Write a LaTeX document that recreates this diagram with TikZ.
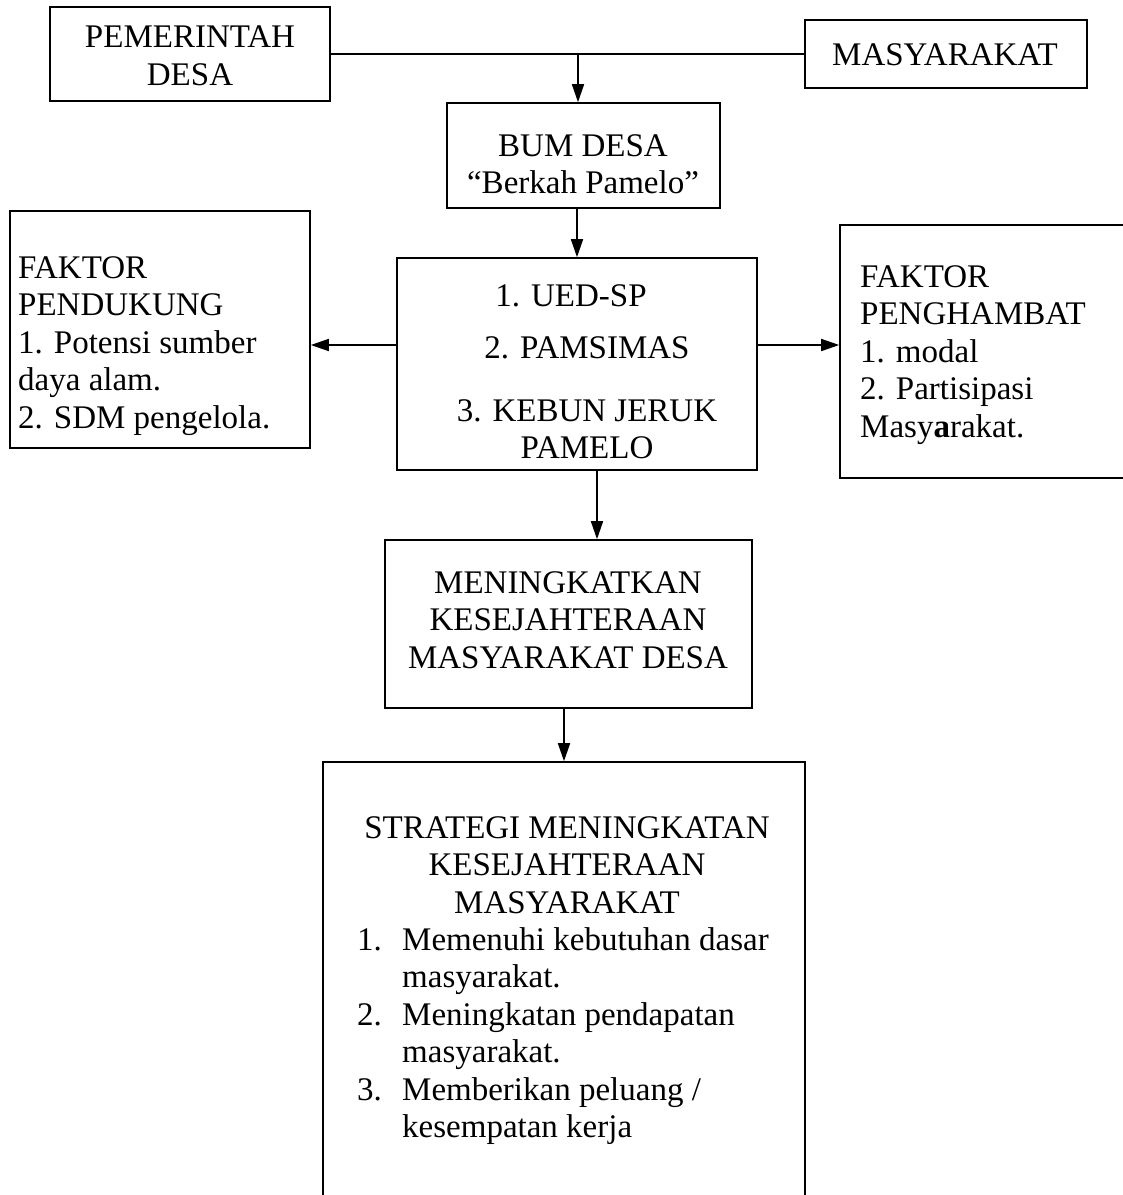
\documentclass[tikz,border=0pt]{standalone}
\usepackage{fontspec}
\setmainfont{Liberation Serif}
\usetikzlibrary{arrows.meta}
\begin{document}
\begin{tikzpicture}[x=1pt,y=-1pt,
  box/.style={draw,line width=1.6pt,inner sep=0pt},
  arr/.style={line width=1.6pt,-{Triangle[length=18pt,width=12pt]}},
  txt/.style={inner sep=0pt,font=\fontsize{33}{37.5}\selectfont},
  lnk/.style={line width=1.6pt}]
\useasboundingbox (0,0) rectangle (1123,1195);
% boxes
\node[box,minimum width=280pt,minimum height=94pt] (pem) at (190,54) {};
\node[box,minimum width=282pt,minimum height=68pt] (mas) at (946,54) {};
\node[box,minimum width=273pt,minimum height=105pt] (bum) at (583.5,155.5) {};
\node[box,minimum width=360pt,minimum height=212pt] (main) at (577,364) {};
\node[box,minimum width=300pt,minimum height=237pt] (left) at (160,329.5) {};
\node[box,minimum width=310pt,minimum height=253pt] (right) at (995,351.5) {};
\node[box,minimum width=367pt,minimum height=168pt] (men) at (568.5,624) {};
\node[box,minimum width=482pt,minimum height=460pt] (str) at (564,992) {};
% texts
\node[txt,align=center] (tpem) at (190,56) {PEMERINTAH\\DESA};
\node[txt] (tmas) at (945,55) {MASYARAKAT};
\node[txt,align=center] (tbum) at (583,164) {BUM DESA\\``Berkah Pamelo''};
\node[txt,align=left,anchor=west] (tleft) at (18,346) {FAKTOR\\PENDUKUNG\\1. Potensi sumber\\daya alam.\\2. SDM pengelola.};
\node[txt] (tm1) at (571,296) {1. UED-SP};
\node[txt] (tm2) at (587,348) {2. PAMSIMAS};
\node[txt,align=center] (tm3) at (587,429) {3. KEBUN JERUK\\PAMELO};
\node[txt,align=left,anchor=west] (tright) at (860,355) {FAKTOR\\PENGHAMBAT\\1. modal\\2. Partisipasi\\Masy\textbf{a}rakat.};
\node[txt,align=center] (tmen) at (568,620) {MENINGKATKAN\\KESEJAHTERAAN\\MASYARAKAT DESA};
\node[txt,align=center] (tstr) at (567,865) {STRATEGI MENINGKATAN\\KESEJAHTERAAN\\MASYARAKAT};
\node[txt,align=left,anchor=west] (tlist) at (357,1036) {\makebox[45pt][l]{1.}Memenuhi kebutuhan dasar\\\hspace*{45pt}masyarakat.\\\makebox[45pt][l]{2.}Meningkatan pendapatan\\\hspace*{45pt}masyarakat.\\\makebox[45pt][l]{3.}Memberikan peluang /\\\hspace*{45pt}kesempatan kerja};
% connectors
\coordinate (j) at (578,54);
\coordinate (yl) at (0,345);
\coordinate (xa) at (597,0);
\draw[lnk] (pem.east) -- (mas.west);
\draw[arr] (j) -- (j |- bum.north);
\draw[arr] (bum.south -| main.north) -- (main.north);
\draw[arr] (main.west |- yl) -- (left.east |- yl);
\draw[arr] (main.east |- yl) -- (right.west |- yl);
\draw[arr] (main.south -| xa) -- (men.north -| xa);
\draw[arr] (men.south -| str.north) -- (str.north);
\end{tikzpicture}
\end{document}
